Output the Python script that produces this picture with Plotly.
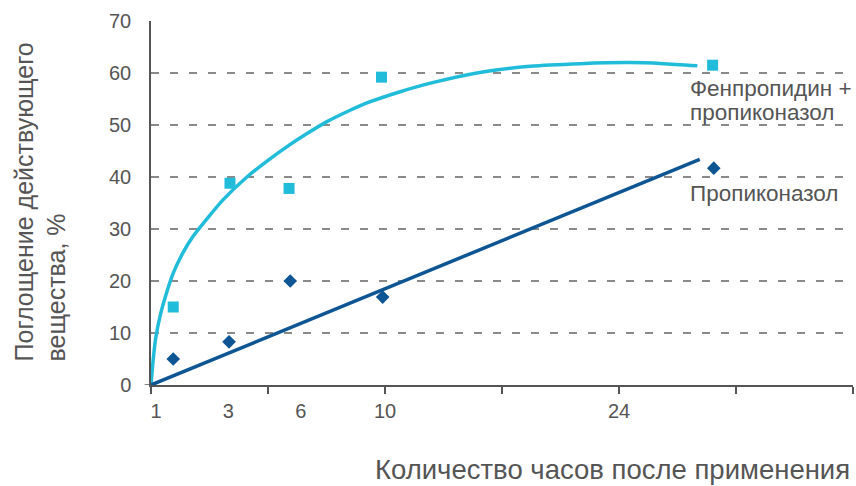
import plotly.graph_objects as go

# ---- data (x in axis units: one tick interval = 1) ----
tick_marks = [0, 1, 2, 3, 4, 5, 6]
tick_label_pos = [0.043, 0.66, 1.28, 2.0, 4.0]
tick_labels = ["1", "3", "6", "10", "24"]

fen_x = [0.19, 0.675, 1.18, 1.97, 4.80]
fen_y = [15, 38.8, 37.8, 59.2, 61.5]
prop_x = [0.19, 0.667, 1.19, 1.98, 4.81]
prop_y = [5, 8.3, 20, 16.9, 41.7]

fen_trend_x = [0, 0.015, 0.04, 0.08, 0.13, 0.19, 0.27, 0.36, 0.48, 0.615, 0.82, 1.0,
               1.16, 1.33, 1.50, 1.67, 1.84, 2.13, 2.38, 2.81, 3.24, 3.67, 4.09, 4.38, 4.67]
fen_trend_y = [0, 4, 9, 13.5, 17.5, 21.5, 25.3, 28.6, 32, 35.6, 40, 43.2,
               45.8, 48.3, 50.6, 52.5, 54.2, 56.4, 58, 60.1, 61.3, 61.8, 62, 61.8, 61.4]
prop_trend_x = [0, 4.69]
prop_trend_y = [0, 43.4]

y_ticks = [0, 10, 20, 30, 40, 50, 60, 70]

CYAN = "#21bcd9"
DARK = "#0e5593"
TXT = "#555555"
FONT = "Liberation Sans"

fig = go.Figure()
fig.add_trace(go.Scatter(x=fen_trend_x, y=fen_trend_y, mode="lines",
                         line=dict(color=CYAN, width=3.5, shape="spline", smoothing=0.6),
                         hoverinfo="skip", showlegend=False))
fig.add_trace(go.Scatter(x=prop_trend_x, y=prop_trend_y, mode="lines",
                         line=dict(color=DARK, width=3.5),
                         hoverinfo="skip", showlegend=False))
fig.add_trace(go.Scatter(x=fen_x, y=fen_y, mode="markers",
                         marker=dict(symbol="square", size=11, color=CYAN),
                         showlegend=False, cliponaxis=False))
fig.add_trace(go.Scatter(x=prop_x, y=prop_y, mode="markers",
                         marker=dict(symbol="diamond", size=10.5, color=DARK),
                         showlegend=False, cliponaxis=False))
# invisible trace on the label axis
fig.add_trace(go.Scatter(x=[0], y=[0], xaxis="x2", mode="markers",
                         marker=dict(opacity=0), showlegend=False, hoverinfo="skip"))

fig.update_layout(
    width=856, height=486,
    margin=dict(l=151, r=3, t=21, b=101),
    paper_bgcolor="white", plot_bgcolor="white",
    font=dict(family=FONT, color=TXT, size=20),
    xaxis=dict(range=[0, 6], tickmode="array", tickvals=tick_marks,
               showticklabels=False, ticks="outside", ticklen=7, tickwidth=1.5,
               tickcolor="#555555", showline=True, linecolor="#555555", linewidth=1.5,
               showgrid=False, zeroline=False),
    xaxis2=dict(range=[0, 6], overlaying="x", anchor="y", side="bottom",
                tickmode="array", tickvals=tick_label_pos, ticktext=tick_labels,
                ticks="outside", ticklen=8, tickcolor="rgba(0,0,0,0)",
                showline=False, showgrid=False, zeroline=False,
                tickfont=dict(family=FONT, size=20, color=TXT)),
    yaxis=dict(range=[0, 70], tickmode="array", tickvals=y_ticks,
               showline=True, linecolor="#555555", linewidth=1.5,
               showgrid=True, gridcolor="#8a8a8a", gridwidth=1.5, griddash="8px,11px",
               zeroline=False, ticks="", ticklabelstandoff=14,
               tickfont=dict(family=FONT, size=20, color=TXT)),
    annotations=[
        dict(text="Поглощение действующего<br>вещества, %", textangle=-90,
             xref="paper", yref="paper", x=-0.2043, y=0.058, xanchor="left", yanchor="bottom",
             showarrow=False, align="left", font=dict(size=25, color=TXT)),
        dict(text="Количество часов после применения", xref="paper", yref="paper",
             x=0.9986, y=-0.2335, xanchor="right", yanchor="middle", showarrow=False,
             font=dict(size=27.5, color=TXT)),
        dict(text="Фенпропидин +", xref="x", yref="y",
             x=4.59, y=57.1, xanchor="left", yanchor="middle", align="left",
             showarrow=False, font=dict(size=22.5, color=TXT)),
        dict(text="пропиконазол", xref="x", yref="y",
             x=4.59, y=52.5, xanchor="left", yanchor="middle", align="left",
             showarrow=False, font=dict(size=22.5, color=TXT)),
        dict(text="Пропиконазол", xref="x", yref="y",
             x=4.59, y=36.9, xanchor="left", yanchor="middle", align="left",
             showarrow=False, font=dict(size=22.5, color=TXT)),
    ],
    shapes=[dict(type="line", xref="paper", yref="y", x0=-0.009, x1=0, y0=0, y1=0,
                 line=dict(color="#555555", width=1.5))],
)

fig.write_html("out.html", config={"displayModeBar": False},
               post_script="document.body.style.margin='0';document.body.style.overflow='hidden';")
